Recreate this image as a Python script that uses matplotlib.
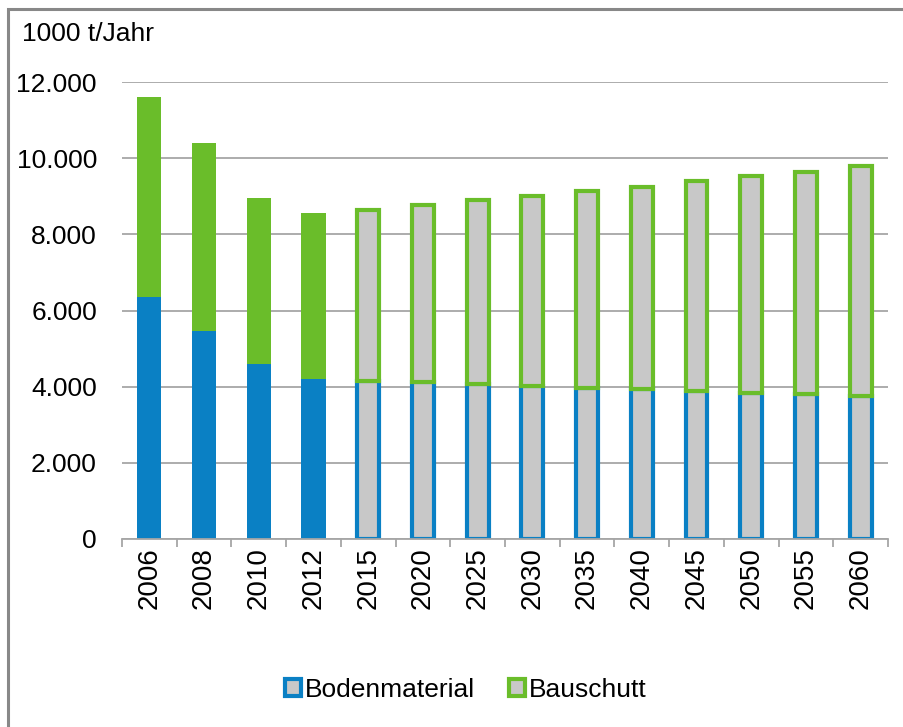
import matplotlib
matplotlib.use("Agg")
import matplotlib.pyplot as plt
from matplotlib.patches import Patch, Rectangle
from matplotlib.ticker import FuncFormatter
import numpy as np

plt.rcParams['font.family'] = ['Liberation Sans', 'DejaVu Sans']

# Data (1000 t/Jahr)
years = ['2006', '2008', '2010', '2012', '2015', '2020', '2025', '2030',
         '2035', '2040', '2045', '2050', '2055', '2060']
boden = [6350, 5460, 4600, 4200, 4150, 4110, 4060, 4020,
         3970, 3930, 3890, 3840, 3800, 3760]
bauschutt = [5260, 4940, 4350, 4360, 4500, 4670, 4850, 4990,
             5170, 5320, 5500, 5680, 5830, 6030]
n_hist = 4  # first four bars are measured values, rest are prognosis

blue = '#0A80C4'
green = '#6ABD2A'
grey_fill = '#C8C8C8'
grid_col = '#A6A6A6'

fig = plt.figure(figsize=(9.04, 7.27), dpi=100)
ax = fig.add_axes([122 / 904, 1 - 539 / 727, 766 / 904, 457 / 727])

x = np.arange(len(years))
boden = np.array(boden)
bauschutt = np.array(bauschutt)

# Measured years: solid bars
ax.bar(x[:n_hist], boden[:n_hist], width=0.44, color=blue, zorder=3)
ax.bar(x[:n_hist], bauschutt[:n_hist], bottom=boden[:n_hist], width=0.44,
       color=green, zorder=3)

# Prognosis: grey bars with coloured outline
ax.bar(x[n_hist:], boden[n_hist:], width=0.40, color=grey_fill,
       edgecolor=blue, linewidth=3, zorder=3)
ax.bar(x[n_hist:], bauschutt[n_hist:], bottom=boden[n_hist:], width=0.40,
       color=grey_fill, edgecolor=green, linewidth=3, zorder=4)

ax.set_xlim(-0.5, len(years) - 0.5)
ax.set_ylim(0, 12000)
ax.set_yticks(np.arange(0, 12001, 2000))
ax.yaxis.set_major_formatter(FuncFormatter(lambda v, p: f"{int(v):,}".replace(",", ".")))
ax.grid(axis='y', color=grid_col, linewidth=1.3, zorder=0)

ax.set_xticks(x)
ax.set_xticklabels(years, rotation=90, fontsize=20)
ax.set_xticks(np.arange(-0.5, len(years), 1), minor=True)
ax.tick_params(axis='x', which='major', length=0, pad=6)
ax.tick_params(axis='x', which='minor', length=6, width=1.3, color=grid_col)
ax.tick_params(axis='y', length=0, pad=18, labelsize=19)

for s in ['top', 'right', 'left']:
    ax.spines[s].set_visible(False)
ax.spines['bottom'].set_color(grid_col)
ax.spines['bottom'].set_linewidth(1.3)
ax.spines['bottom'].set_zorder(5)

fig.text(22 / 904, 1 - 41 / 727, '1000 t/Jahr', fontsize=19, ha='left', va='baseline')

handles = [Patch(facecolor=grey_fill, edgecolor=blue, linewidth=3, label='Bodenmaterial'),
           Patch(facecolor=grey_fill, edgecolor=green, linewidth=3, label='Bauschutt')]
fig.legend(handles=handles, loc='center', bbox_to_anchor=(466 / 904, 1 - 690 / 727),
           ncol=2, frameon=False, fontsize=19, handlelength=0.6, handleheight=0.6,
           handletextpad=0.15, columnspacing=1.3)

# chart area border
fig.patches.append(Rectangle((8 / 904, -0.05), 1.05, 1.05 - 9 / 727, transform=fig.transFigure,
                             fill=False, edgecolor='#888888', linewidth=2.2))

fig.savefig('out.png', dpi=100)
